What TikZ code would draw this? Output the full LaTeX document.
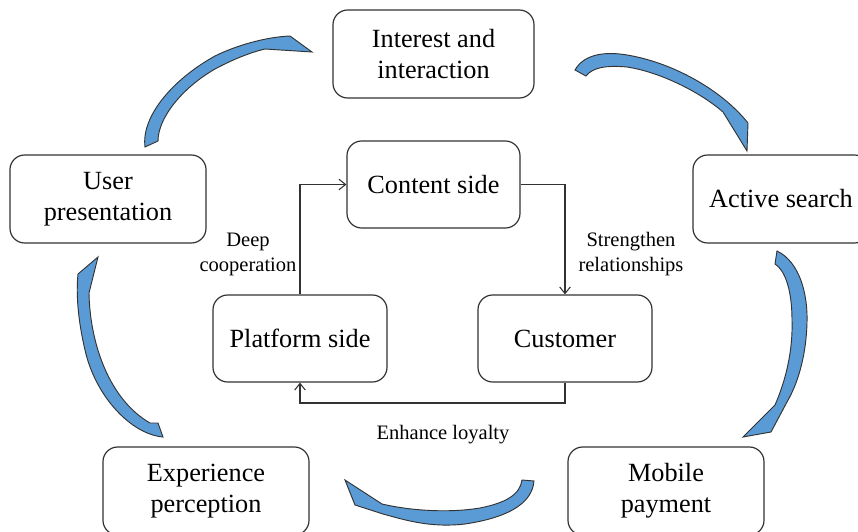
\documentclass[tikz,border=0pt]{standalone}
\usepackage{fontspec}
\setmainfont{Liberation Serif}
\usetikzlibrary{arrows.meta}
\definecolor{arcblue}{RGB}{91,155,213}
\definecolor{edgegray}{RGB}{50,50,50}
\begin{document}
\begin{tikzpicture}[x=0.75pt,y=-0.75pt,
  box/.style={draw=edgegray,line width=0.9pt,rounded corners=11pt,fill=white,
    align=center,inner sep=0pt,font=\fontsize{19.7}{23.3}\selectfont},
  outerbox/.style={box,minimum height=66pt},
  innerbox/.style={box,minimum height=65.25pt},
  flow/.style={draw=edgegray,line width=0.8pt,-{Straight Barb[length=5pt,width=8pt]}},
  lbl/.style={align=center,inner sep=0pt,font=\fontsize{15.4}{18.8}\selectfont},
  arc/.style={fill=arcblue,draw=black!80,line width=0.7pt,line join=miter}]
\useasboundingbox (0,0) rectangle (858,532);

% outer ring of stages
\node[outerbox,minimum width=150.75pt] (interest) at (433.5,54) {Interest and\\interaction};
\node[outerbox,minimum width=132pt]    (active)   at (781,199)  {Active search};
\node[outerbox,minimum width=147pt]    (user)     at (108,199)  {User\\presentation};
\node[outerbox,minimum width=154.5pt]  (exper)    at (206,491)  {Experience\\perception};
\node[outerbox,minimum width=147pt]    (mobile)   at (666,491)  {Mobile\\payment};

% inner triangle
\node[innerbox,minimum width=129.75pt] (content)  at (433.5,184.5) {Content side};
\node[innerbox,minimum width=130.5pt]  (platform) at (300,338.5)   {Platform side};
\node[innerbox,minimum width=130.5pt]  (customer) at (565,338.5)   {Customer};

% inner connectors
\draw[flow] (platform.north) |- (content.west);
\draw[flow] (content.east) -| (customer.north);
\coordinate (loopL) at (300,403);
\coordinate (loopR) at (565,403);
\draw[flow] (customer.south) -- (loopR) -- (loopL) -- (platform.south);

\node[lbl] (deep)   at (248,254) {Deep\\cooperation};
\node[lbl] (streng) at (631,254) {Strengthen\\relationships};
\node[lbl] (loyal)  at (443,435) {Enhance loyalty};

% curved block arrows between the outer stages
% user presentation -> interest and interaction
\draw[arc] (145,147)
  .. controls (141,115) and (175,78) .. (215,56)
  .. controls (235,46) and (265,37) .. (290,36)
  -- (312,52) -- (265,49)
  .. controls (248,53) and (230,61) .. (215,69)
  .. controls (182,88) and (158,118) .. (158,141) -- cycle;

% interest and interaction -> active search
\draw[arc] (575,70)
  .. controls (585,52) and (610,52) .. (627,55)
  .. controls (670,62) and (720,88) .. (748,123)
  -- (747,151) -- (723,112)
  .. controls (700,92) and (660,72) .. (627,67)
  .. controls (605,65) and (592,68) .. (586,76) -- cycle;

% active search -> mobile payment
\draw[arc] (777,251)
  .. controls (800,262) and (808,295) .. (807,323)
  .. controls (806,358) and (797,385) .. (787,402)
  -- (771,432) -- (743,437) -- (775,405)
  .. controls (786,380) and (793,350) .. (792,320)
  .. controls (792,295) and (787,272) .. (775,264) -- cycle;

% mobile payment -> experience perception
\draw[arc] (534,481)
  .. controls (532,505) and (505,518) .. (465,524)
  .. controls (430,528) and (405,520) .. (383,514)
  -- (355,505) -- (345,480) -- (382,504)
  .. controls (412,511) and (450,513) .. (480,508)
  .. controls (505,503) and (520,495) .. (522,480) -- cycle;

% experience perception -> user presentation
\draw[arc] (163,437)
  .. controls (130,434) and (95,395) .. (85,350)
  .. controls (78,320) and (76,295) .. (78,274)
  -- (98,257) -- (89,293)
  .. controls (90,345) and (110,400) .. (150,423)
  -- (158,423) -- cycle;
\end{tikzpicture}
\end{document}
